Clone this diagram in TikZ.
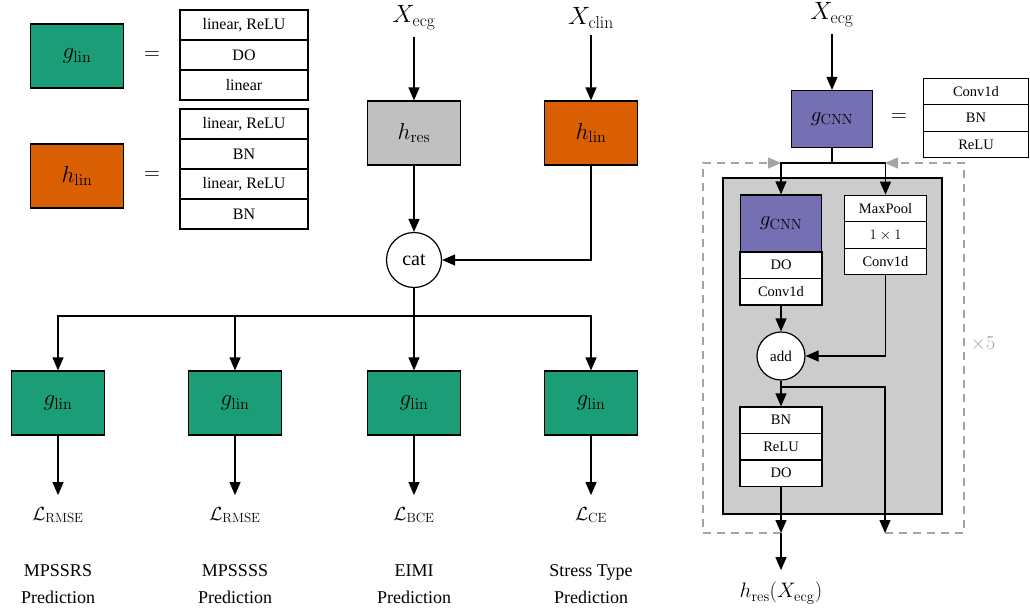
\RequirePackage{fix-cm}
\documentclass[tikz,border=0pt]{standalone}
\usepackage[no-math]{fontspec}
\setmainfont{Liberation Serif}
\usepackage{xcolor}
\usetikzlibrary{arrows.meta}
\definecolor{glinfill}{HTML}{1B9E77}
\definecolor{hlinfill}{HTML}{D95F02}
\definecolor{cnnfill}{HTML}{7570B3}
\definecolor{resfill}{HTML}{C0C0C0}
\definecolor{blockbg}{HTML}{CCCCCC}
\definecolor{loopgray}{HTML}{A3A3A3}

\begin{document}
\begin{tikzpicture}[x=1pt,y=-1pt,
      blk/.style={draw,line width=1.2pt,minimum width=93pt,minimum height=64pt,
                  inner sep=0pt,font=\fontsize{23}{26}\selectfont},
      cnn/.style={blk,fill=cnnfill,minimum width=81pt,minimum height=57pt,
                  font=\fontsize{21}{24}\selectfont},
      cellrow/.style={draw,fill=white,line width=1.2pt,minimum width=128pt,
                  minimum height=30pt,inner sep=0pt,font=\fontsize{16}{18}\selectfont},
      srow/.style={cellrow,minimum width=82pt,minimum height=26.5pt,
                  font=\fontsize{14.5}{16}\selectfont},
      opnode/.style={draw,circle,fill=white,line width=1.2pt,inner sep=0pt},
      lbl/.style={font=\fontsize{25}{28}\selectfont,inner sep=0pt,outer ysep=7pt},
      loss/.style={font=\fontsize{19}{22}\selectfont,inner sep=0pt,outer ysep=12pt},
      task/.style={font=\fontsize{18}{27}\selectfont,align=center,inner sep=0pt},
      eqs/.style={font=\fontsize{22}{26}\selectfont},
      arr/.style={line width=1.2pt,-{Triangle[length=13pt,width=11pt]}},
      wire/.style={line width=1.2pt},
      loopline/.style={line width=1.2pt,draw=loopgray,dash pattern=on 8pt off 6pt,
                  -{Triangle[length=13pt,width=11pt,fill=loopgray]}}]
    \useasboundingbox (0,0) rectangle (1030,611);

    % legend: g_lin and h_lin
    \node[blk,fill=glinfill] (gleg) at (77,56) {$g_{\mathrm{lin}}$};
    \node[eqs] (eqg) at (152,56) {$=$};
    \foreach \t [count=\i] in {{linear, ReLU},DO,linear}
      \node[cellrow] (ga\i) at (244,-5+30*\i) {\t};
    \node[blk,fill=hlinfill] (hleg) at (77,176) {$h_{\mathrm{lin}}$};
    \node[eqs] (eqh) at (152,176) {$=$};
    \foreach \t [count=\i] in {{linear, ReLU},BN,{linear, ReLU},BN}
      \node[cellrow] (ha\i) at (244,94+30*\i) {\t};

    % main model
    \node[lbl] (xecg) at (414,18) {$X_{\mathrm{ecg}}$};
    \node[lbl] (xclin) at (591,18) {$X_{\mathrm{clin}}$};
    \node[blk,fill=resfill] (hres) at (414,133) {$h_{\mathrm{res}}$};
    \node[blk,fill=hlinfill] (hlin) at (591,133) {$h_{\mathrm{lin}}$};
    \node[opnode,minimum size=55pt,font=\fontsize{20}{24}\selectfont] (cat) at (414,260) {cat};
    \draw[arr] (xecg.south) -- (hres.north);
    \draw[arr] (xclin.south) -- (hlin.north);
    \draw[arr] (hres.south) -- (cat.north);
    \draw[arr] (hlin.south) |- (cat.east);
    \coordinate (fan) at (414,316);
    \draw[wire] (cat.south) -- (fan);
    \foreach \x/\s/\t [count=\i] in {58/RMSE/MPSSRS,235/RMSE/MPSSSS,414/BCE/EIMI,591/CE/Stress Type} {
      \node[blk,fill=glinfill] (head\i) at (\x,403) {$g_{\mathrm{lin}}$};
      \node[loss] (loss\i) at (\x,515) {$\mathcal{L}_{\mathrm{\s}}$};
      \node[task] (task\i) at (\x,584) {\t\\Prediction};
      \draw[arr] (fan) -| (head\i.north);
      \draw[arr] (head\i.south) -- (loss\i.north);
    }

    % residual CNN
    \node[lbl] (xecgr) at (832,15) {$X_{\mathrm{ecg}}$};
    \node[cnn] (gcnn) at (832,119) {$g_{\mathrm{CNN}}$};
    \node[eqs] (eqc) at (899,118) {$=$};
    \foreach \t [count=\i] in {Conv1d,BN,ReLU}
      \node[srow,minimum width=105pt] (cb\i) at (976,65+26.5*\i) {\t};
    \draw[arr] (xecgr.south) -- (gcnn.north);

    \coordinate (lpin) at (781,163);
    \coordinate (rpin) at (885,163);
    \coordinate (lpout) at (781,533);
    \coordinate (rpout) at (885,533);
    \draw[loopline] (lpout) -- ++(-78,0) |- (lpin);
    \draw[loopline] (rpout) -- ++(79,0) |- (rpin);
    \node[draw,fill=blockbg,line width=1.2pt,minimum width=219pt,minimum height=336pt,
          inner sep=0pt] (resblk) at (832.5,346) {};

    \node[cnn] (gin) at (781,223.5) {$g_{\mathrm{CNN}}$};
    \node[srow] (do1) at (781,265.25) {DO};
    \node[srow] (conv1) at (781,291.75) {Conv1d};
    \foreach \t [count=\i] in {MaxPool,{$1\times1$},Conv1d}
      \node[srow] (mp\i) at (885.5,182+26.5*\i) {\t};
    \node[opnode,minimum size=48pt,font=\fontsize{15}{18}\selectfont] (add) at (781,356) {add};
    \foreach \t [count=\i] in {BN,ReLU,DO}
      \node[srow] (post\i) at (781,393.75+26.5*\i) {\t};

    \draw[wire] (gcnn.south) -- (832,163) coordinate (split);
    \draw[wire] (lpin) -- (rpin);
    \draw[arr] (split) -| (gin.north);
    \draw[arr] (split) -| (mp1.north);
    \draw[arr] (conv1.south) -- (add.north);
    \draw[arr] (mp3.south) |- (add.east);
    \draw[arr] (add.south) -- (post1.north);
    \coordinate (skip) at (781,387);
    \draw[arr] (skip) -| (rpout);
    \draw[arr] (post3.south) -- (lpout);
    \node[font=\fontsize{21}{24}\selectfont,inner sep=0pt,outer ysep=12pt] (hout) at (781,593)
      {$h_{\mathrm{res}}(X_{\mathrm{ecg}})$};
    \draw[arr] (lpout) -- (hout.north);
    \node[font=\fontsize{20}{24}\selectfont,text=loopgray] (rep) at (983,344) {$\times5$};
  \end{tikzpicture}
\end{document}
